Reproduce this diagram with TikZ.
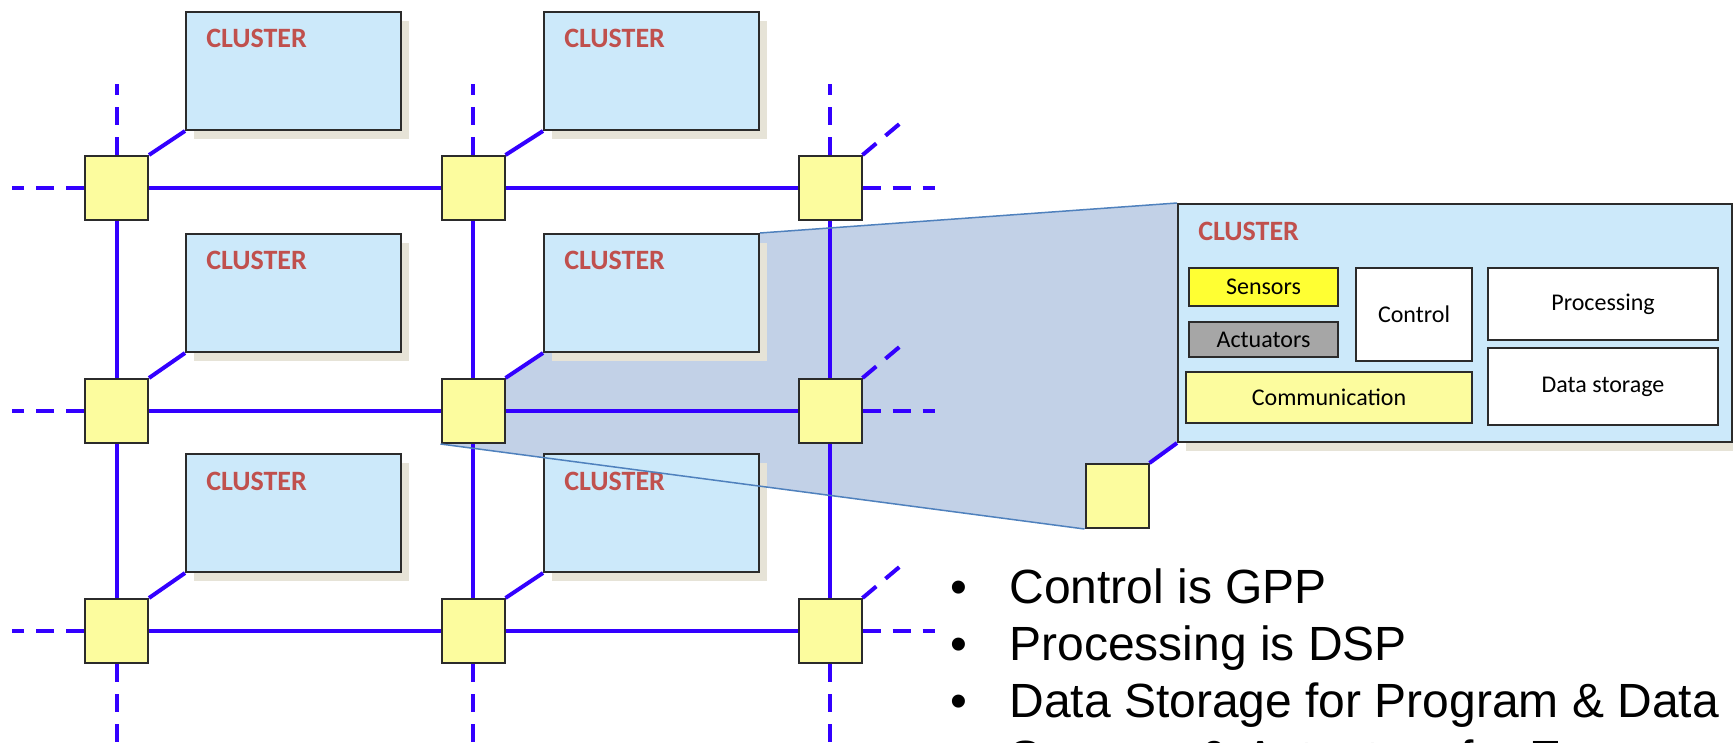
\documentclass[tikz,border=0pt]{standalone}
\usepackage{fontspec}
\setmainfont{Liberation Sans}
\newfontfamily\calibri{Carlito}
\usetikzlibrary{positioning, shadows, backgrounds, calc}
\definecolor{cblue}{HTML}{3300FF}
\definecolor{ccluster}{HTML}{CCE9FA}
\definecolor{cshadow}{HTML}{E6E3D7}
\definecolor{crouter}{HTML}{FCFC9E}
\definecolor{cred}{HTML}{C0504D}
\definecolor{czoom}{HTML}{C2D1E7}
\definecolor{cedge}{HTML}{4F81BD}
\definecolor{csensor}{HTML}{FFFF33}
\definecolor{cactuator}{HTML}{A6A6A6}
\definecolor{cgrey}{HTML}{2B2B2B}
\tikzset{
  cluster/.style={draw=cgrey, fill=ccluster, line width=1pt, minimum width=107.5pt, minimum height=59pt, inner sep=0pt, anchor=north west,
    drop shadow={fill=cshadow, opacity=1, shadow xshift=4pt, shadow yshift=-4.5pt}},
  router/.style={draw=cgrey, fill=crouter, line width=1pt, minimum width=31.5pt, minimum height=32pt, inner sep=0pt},
  link/.style={draw=cblue, line width=2pt},
  stub/.style={link, dash pattern=on 9pt off 6pt},
  clabel/.style={font=\calibri\bfseries\fontsize{14}{16}\selectfont, text=cred, inner sep=0pt, anchor=base west},
  part/.style={draw=cgrey, line width=1pt, font=\calibri\fontsize{12}{14}\selectfont, inner sep=0pt},
  bullet/.style={font=\fontsize{24}{28.5}\selectfont, inner sep=0pt, anchor=base west},
}

\begin{document}
\begin{tikzpicture}[x=0.5pt,y=-0.5pt]
  \useasboundingbox (0,0) rectangle (1733,743);
  % grid of routers
  \foreach \x/\cx in {1/116.5, 2/473, 3/830}
    \foreach \y/\cy in {1/188, 2/411, 3/631}
      \node[router] (r\y\x) at (\cx,\cy) {};
  % clusters
  \foreach \x/\cx in {1/185, 2/543}
    \foreach \y/\cy in {1/11, 2/233, 3/453} {
      \node[cluster] (c\y\x) at (\cx,\cy) {};
      \node[clabel] at ([xshift=10.5pt, yshift=-18.5pt]c\y\x.north west) {CLUSTER};
      \draw[link] (r\y\x.north east) -- (c\y\x.south west);
    }
  % links
  \foreach \y in {1,2,3} {
    \coordinate (w\y) at ([xshift=-36pt]r\y1.west);
    \coordinate (e\y) at ([xshift=36pt]r\y3.east);
    \coordinate (ne\y) at ([xshift=22pt, yshift=18.5pt]r\y3.north east);
    \draw[link] (r\y1) -- (r\y2);
    \draw[link] (r\y2) -- (r\y3);
    \draw[stub] (r\y1.west) -- (w\y);
    \draw[stub] (r\y3.east) -- (e\y);
    \draw[stub] (r\y3.north east) -- (ne\y);
  }
  \foreach \x in {1,2,3} {
    \coordinate (n\x) at ([yshift=35.5pt]r1\x.north);
    \coordinate (s\x) at ([yshift=-45pt]r3\x.south);
    \draw[link] (r1\x) -- (r2\x);
    \draw[link] (r2\x) -- (r3\x);
    \draw[stub] (r1\x.north) -- (n\x);
    \draw[stub] (r3\x.south) -- (s\x);
  }
  % zoomed cluster
  \node[cluster, minimum width=277pt, minimum height=119pt] (zoom) at (1177,203) {};
  \node[clabel] at ([xshift=10.5pt, yshift=-19pt]zoom.north west) {CLUSTER};
  \node[part, fill=csensor, minimum width=74.5pt, minimum height=19pt] (sensors) at (1263.5,287) {Sensors};
  \node[part, fill=cactuator, minimum width=74.5pt, minimum height=17.5pt] (actuators) at (1263.5,339.5) {Actuators};
  \node[part, fill=white, minimum width=58pt, minimum height=46.5pt] (control) at (1414,314.5) {Control};
  \node[part, fill=crouter, minimum width=143pt, minimum height=25.5pt] (comm) at (1329,397.5) {Communication};
  \node[part, fill=white, minimum width=115pt, minimum height=36pt] (processing) at (1603,304) {Processing};
  \node[part, fill=white, minimum width=115pt, minimum height=38.5pt] (storage) at (1603,386.5) {Data storage};
  \node[router] (rz) at (1117,496) {};
  \draw[link] (rz.north east) -- (zoom.south west);
  % projection
  \begin{scope}[on background layer]
    \fill[czoom] (c22.north east) -- (zoom.north west) -- (zoom.south west) -- (rz.north east) -- (rz.south west)
      -- (r22.south west) -- (r22.north east) -- (c22.south west) -- cycle;
  \end{scope}
  \draw[cedge, line width=0.75pt] (c22.north east) -- (zoom.north west);
  \draw[cedge, line width=0.75pt] (r22.south west) -- (rz.south west);
  % notes
  \foreach \txt [count=\i] in {Control is GPP, Processing is DSP, Data Storage for Program \& Data, Sensors \& Actuators for E} {
    \node[bullet] (t\i) at (1009,{546+57*\i}) {\txt};
    \node[bullet] (d\i) at (950,{546+57*\i}) {\textbullet};
  }
\end{tikzpicture}
\end{document}
